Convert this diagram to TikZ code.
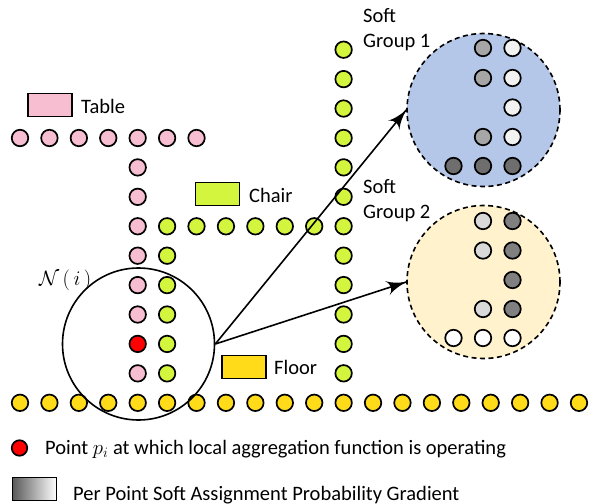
\documentclass[tikz,border=0pt]{standalone}
\usepackage{amsmath}
\usepackage{amssymb}
\usepackage{fontspec}
\setmainfont{Carlito}
\usepackage{tikz}
\usetikzlibrary{arrows}
\usetikzlibrary{decorations.markings}
\usetikzlibrary{positioning}
\tikzset{->/.style = {decoration={markings,
                                  mark=at position 1 with {\arrow[scale=2.6]{latex'}}},
                      postaction={decorate}}}
\tikzset{pt/.style = {draw, circle, line width = 1.7, inner sep = 0, minimum size = 16.5}}
\tikzset{grp/.style = {draw, circle, dashed, dash pattern = on 5 off 3.5, line width = 1.6,
                       inner sep = 0, minimum size = 153}}
\tikzset{key/.style = {draw, line width = 1.6, inner sep = 0, minimum width = 44, minimum height = 23}}
\tikzset{lbl/.style = {anchor = base west, inner sep = 0, font = \fontsize{20.5}{24}\selectfont}}
\definecolor{tpink}{rgb}{0.97, 0.74, 0.82}
\definecolor{cgreen}{rgb}{0.83, 0.96, 0.24}
\definecolor{fyellow}{rgb}{1.0, 0.86, 0.1}
\definecolor{gblue}{rgb}{0.71, 0.78, 0.91}
\definecolor{gcream}{rgb}{1.0, 0.95, 0.8}

\begin{document}
\begin{tikzpicture}[x=1pt, y=-1pt]
          \useasboundingbox (0, 0) rectangle (598, 504);

          \node [grp, fill=gblue] (grpone) at (483.5, 110) {};
          \node [grp, fill=gcream] (grptwo) at (483.5, 282) {};

          \foreach \i in {0,...,6}
            \node [pt, fill=tpink] (tab\i) at ({20 + 29.42*\i}, 138) {};
          \foreach \j in {1,...,6,8}
            \node [pt, fill=tpink] (leg\j) at (137.7, {138 + 29.42*\j}) {};
          \node [pt, fill=red] (pi) at (137.7, 343.9) {};

          \foreach \k in {0,...,5}
            \node [pt, fill=cgreen] (seat\k) at ({167.1 + 29.42*\k}, 226.3) {};
          \foreach \j in {4,...,8}
            \node [pt, fill=cgreen] (front\j) at (167.1, {138 + 29.42*\j}) {};
          \foreach \m in {0,...,11}
            \node [pt, fill=cgreen] (back\m) at (343.6, {49.7 + 29.42*\m}) {};

          \foreach \i in {0,...,19}
            \node [pt, fill=fyellow] (floor\i) at ({20 + 29.42*\i}, 402.8) {};

          \node [pt, fill=black!35] (a1) at (483, 48) {};
          \node [pt, fill=black!5] (b1) at (512.5, 48) {};
          \node [pt, fill=black!35] (a2) at (483, 78) {};
          \node [pt, fill=black!5] (b2) at (512.5, 78) {};
          \node [pt, fill=black!5] (b3) at (512.5, 107.5) {};
          \node [pt, fill=black!35] (a4) at (483, 137) {};
          \node [pt, fill=black!5] (b4) at (512.5, 137) {};
          \node [pt, fill=black!57] (c5) at (453.5, 166) {};
          \node [pt, fill=black!57] (a5) at (483, 166) {};
          \node [pt, fill=black!57] (b5) at (512.5, 166) {};

          \node [pt, fill=black!15] (d1) at (483, 221) {};
          \node [pt, fill=black!50] (e1) at (512.5, 221) {};
          \node [pt, fill=black!15] (d2) at (483, 250.5) {};
          \node [pt, fill=black!50] (e2) at (512.5, 250.5) {};
          \node [pt, fill=black!50] (e3) at (512.5, 280) {};
          \node [pt, fill=black!15] (d4) at (483, 309) {};
          \node [pt, fill=black!50] (e4) at (512.5, 309) {};
          \node [pt, fill=white] (f5) at (453.5, 338) {};
          \node [pt, fill=white] (d5) at (483, 338) {};
          \node [pt, fill=white] (e5) at (512.5, 338) {};

          \node [draw, circle, line width = 1.6, inner sep = 0, minimum size = 152] (nbhd) at (138.5, 344) {};
          \draw [->, line width = 1.6] (nbhd.east) -- (grpone.west);
          \draw [->, line width = 1.6] (nbhd.east) -- (grptwo.west);

          \node [key, fill=tpink] (tabkey) at (50, 105) {};
          \node [lbl] (tablbl) at (81, 113) {Table};
          \node [key, fill=cgreen] (chairkey) at (217.5, 194) {};
          \node [lbl] (chairlbl) at (249, 202) {Chair};
          \node [key, fill=fyellow] (floorkey) at (244, 367) {};
          \node [lbl] (floorlbl) at (274, 374) {Floor};
          \node [lbl] (nlbl) at (39, 285) {$\mathcal{N}\,(\,i\,)$};

          \node [lbl] (softone) at (363, 22) {Soft};
          \node [lbl] (grponelbl) at (363, 47) {Group 1};
          \node [lbl] (softtwo) at (363, 193) {Soft};
          \node [lbl] (grptwolbl) at (363, 218) {Group 2};

          \node [pt, fill=red, minimum size = 15.5] (redkey) at (19.5, 448) {};
          \node [lbl] (redlbl) at (45, 454) {Point $p_i$ at which local aggregation function is operating};
          \node [key, left color=black!65, right color=white] (gradkey) at (34.5, 489) {};
          \node [lbl] (gradlbl) at (73, 500) {Per Point Soft Assignment Probability Gradient};
        \end{tikzpicture}
\end{document}
